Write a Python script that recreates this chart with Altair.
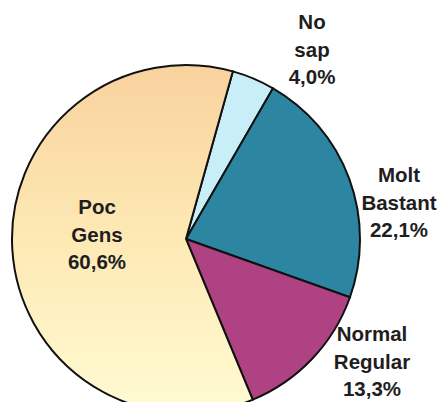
import math
import altair as alt
import pandas as pd

categories = ["No sap", "Molt Bastant", "Normal Regular", "Poc Gens"]
values = [4.0, 22.1, 13.3, 60.6]
slice_colors = ["#C8EFF7", "#2C86A2", "#AE4283", "#FCE6B2"]

def make_label(cat, val):
    return cat.replace(" ", "\n") + "\n" + f"{val:.1f}%".replace(".", ",")

df = pd.DataFrame({
    "category": categories,
    "value": values,
    "rank": list(range(len(categories))),
    "label": [make_label(c, v) for c, v in zip(categories, values)],
})

start = math.radians(15.6)

gradient = alt.Gradient(
    gradient="linear",
    x1=0, x2=0, y1=0, y2=1,
    stops=[
        alt.GradientStop(color="#F9D29E", offset=0),
        alt.GradientStop(color="#FDE9B4", offset=0.5),
        alt.GradientStop(color="#FFFBD3", offset=1),
    ],
)

cx, cy = 178, 231

pie = alt.Chart(df).mark_arc(radius=174, stroke="#111111", strokeWidth=2).encode(
    theta=alt.Theta("value:Q", stack=True, scale=alt.Scale(range=[start, start + 2 * math.pi])),
    order=alt.Order("rank:Q"),
    color=alt.condition(
        alt.datum.category == "Poc Gens",
        alt.value(gradient),
        alt.Color("category:N", scale=alt.Scale(domain=categories, range=slice_colors), legend=None),
    ),
    x=alt.value(cx),
    y=alt.value(cy),
)

label_pos = {
    "No sap": (304, 15),
    "Molt Bastant": (391, 168),
    "Normal Regular": (364, 327),
    "Poc Gens": (89, 200),
}

layers = [pie]
for cat in categories:
    px, py = label_pos[cat]
    t = alt.Chart(df).transform_filter(alt.datum.category == cat).mark_text(
        font="Liberation Sans", fontWeight="bold", fontSize=20.5, color="#1E1E1E",
        lineBreak="\n", lineHeight=27.5, align="center", baseline="middle",
    ).encode(text="label:N", x=alt.value(px), y=alt.value(py))
    layers.append(t)

chart = alt.layer(*layers).properties(
    width=430, height=394, padding=0, autosize=alt.AutoSizeParams(type="none")
).configure_view(stroke=None)

chart.save("out.html", embed_options={"renderer": "svg", "actions": False})
